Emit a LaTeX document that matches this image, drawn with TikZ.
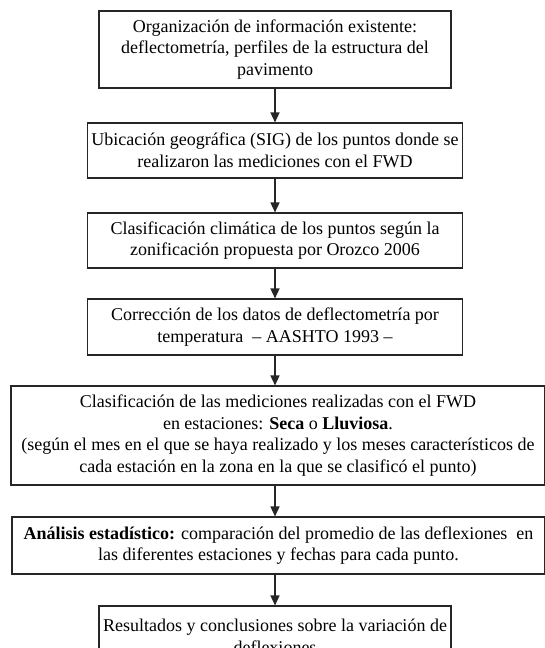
\documentclass[tikz,border=0pt]{standalone}
\usepackage{fontspec}
\setmainfont{Liberation Serif}
\usetikzlibrary{arrows.meta}
\tikzset{
  box/.style={draw=black!85, line width=1.1pt, align=center, inner sep=0pt,
    font=\fontsize{18}{21.7}\selectfont},
  arr/.style={draw=black!85, line width=1.4pt, -{Triangle[width=9pt,length=10pt]}}
}
\begin{document}
\begin{tikzpicture}[x=1pt,y=-1pt]
\useasboundingbox (0,0) rectangle (545,648);
\clip (0,0) rectangle (545,648);
\node[box, minimum width=352pt, minimum height=77pt] (b1) at (275,49.5)
  {Organización de información existente:\\deflectometría, perfiles de la estructura del\\pavimento};
\node[box, minimum width=375pt, minimum height=55pt] (b2) at (275,150.5)
  {Ubicación geográfica (SIG) de los puntos donde se\\realizaron las mediciones con el FWD};
\node[box, minimum width=375pt, minimum height=55pt] (b3) at (275,240.5)
  {Clasificación climática de los puntos según la\\zonificación propuesta por Orozco 2006};
\node[box, minimum width=375pt, minimum height=56pt] (b4) at (275,327)
  {Corrección de los datos de deflectometría por\\temperatura\ \ – AASHTO 1993 –};
\node[box, minimum width=534pt, minimum height=99pt] (b5) at (278,435.5)
  {Clasificación de las mediciones realizadas con el FWD\\en estaciones: \textbf{Seca} o \textbf{Lluviosa}.\\(según el mes en el que se haya realizado y los meses característicos de\\cada estación en la zona en la que se clasificó el punto)};
\node[box, minimum width=533pt, minimum height=57pt] (b6) at (278.5,545.5)
  {\textbf{Análisis estadístico:} comparación del promedio de las deflexiones\ \ en\\las diferentes estaciones y fechas para cada punto.};
\node[box, minimum width=352pt, minimum height=60pt] (b7) at (275,636)
  {Resultados y conclusiones sobre la variación de\\deflexiones};
\draw[arr] (b1.south) -- (b1.south |- b2.north);
\draw[arr] (b2.south) -- (b2.south |- b3.north);
\draw[arr] (b3.south) -- (b3.south |- b4.north);
\draw[arr] (b4.south) -- (b4.south |- b5.north);
\draw[arr] (b4.south |- b5.south) -- (b4.south |- b6.north);
\draw[arr] (b4.south |- b6.south) -- (b4.south |- b7.north);
\end{tikzpicture}
\end{document}
